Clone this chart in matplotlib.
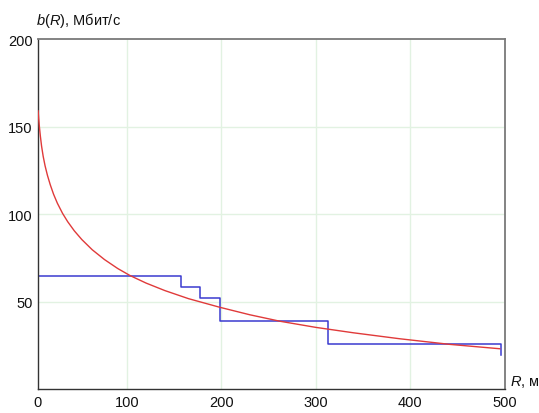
import matplotlib
matplotlib.use("Agg")
import matplotlib.pyplot as plt

plt.rcParams["font.family"] = ["Liberation Sans", "DejaVu Sans"]
plt.rcParams["mathtext.fontset"] = "custom"
plt.rcParams["mathtext.rm"] = "Liberation Sans"
plt.rcParams["mathtext.it"] = "Liberation Sans:italic"

# Theoretical throughput b(R) vs distance R
r_curve = [5.6, 6.2, 7, 8, 9.3, 11, 13, 15.5, 18.5, 22, 26, 31.5, 37, 44,
           52, 63, 76, 90, 103, 120, 140, 165, 198, 230, 262, 300, 340,
           389, 442, 495]
b_curve = [159, 154.8, 149.8, 144.6, 138.8, 133, 127.6, 122.2, 116.8, 111.4,
           106.3, 100.5, 95.7, 90.5, 85.5, 79.7, 74.1, 69, 65, 60.7, 56.4,
           51.8, 46.9, 42.6, 38.9, 35.4, 32.3, 28.9, 25.7, 23.2]

# Discrete rate levels (step boundaries and rates)
step_edges = [5.5, 157.6, 176.7, 198, 313, 496, 496.5]
step_rates = [65, 58.5, 52, 39, 26, 19.5]

x_min, x_max = 5.5, 500
y_min, y_max = 0, 200
x_ticks = [x_min, 100, 200, 300, 400, 500]
x_tick_labels = ["0", "100", "200", "300", "400", "500"]
y_ticks = [50, 100, 150, 200]
y_tick_labels = ["50", "100", "150", "200"]

fig = plt.figure(figsize=(5.39, 4.14), dpi=100)
ax = fig.add_axes([38 / 539, 23.6 / 414, 466.5 / 539, 350.4 / 414])

# grid
for gx in [100, 200, 300, 400]:
    ax.axvline(gx, color="#e2f2e2", lw=1.0, zorder=0)
for gy in [50, 100, 150]:
    ax.axhline(gy, color="#e2f2e2", lw=1.0, zorder=0)

ax.plot(r_curve, b_curve, color="#e03a3a", lw=1.0, zorder=3)

# staircase of discrete rates
sx, sy = [], []
for i, rate in enumerate(step_rates):
    sx += [step_edges[i], step_edges[i + 1]]
    sy += [rate, rate]
ax.plot(sx, sy, color="#3a3ad0", lw=1.1, zorder=2)

ax.set_xlim(x_min, x_max)
ax.set_ylim(y_min, y_max)
ax.set_xticks(x_ticks)
ax.set_xticklabels(x_tick_labels)
ax.set_yticks(y_ticks)
ax.set_yticklabels(y_tick_labels)
ax.tick_params(length=0, labelsize=10.5, colors="#111111", pad=4)

for side in ["left", "bottom"]:
    ax.spines[side].set_color("#333333")
    ax.spines[side].set_linewidth(1.0)
for side in ["top", "right"]:
    ax.spines[side].set_color("#7a7a7a")
    ax.spines[side].set_linewidth(1.3)

fig.text(36 / 539, 1 - 20 / 414, r"$b(R)$, Мбит/с", fontsize=10.5,
         ha="left", va="center", color="#111111")
fig.text(510 / 539, 1 - 382 / 414, r"$R$, м", fontsize=10.5,
         ha="left", va="center", color="#111111")

fig.savefig("out.png", dpi=100)
